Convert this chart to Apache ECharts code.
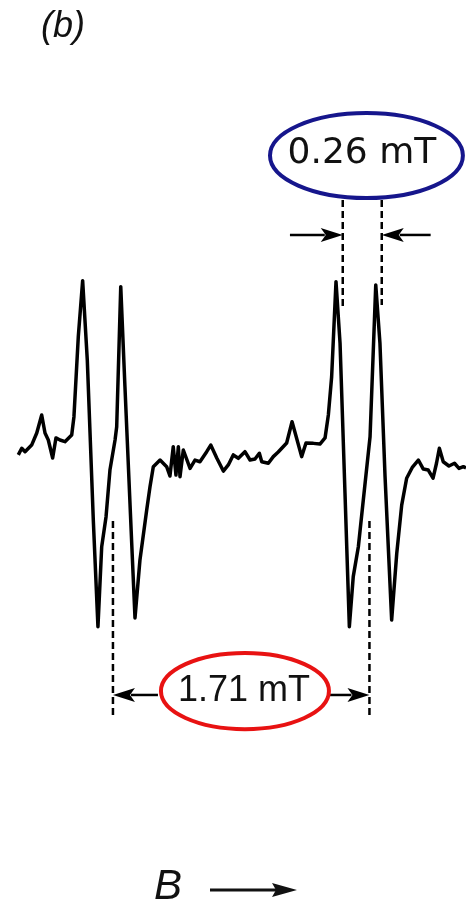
<!DOCTYPE html>
<html>
<head>
<meta charset="utf-8">
<script src="https://cdn.jsdelivr.net/npm/echarts@6/dist/echarts.min.js"></script>
<style>
html,body{margin:0;padding:0;background:#fff;}
#chart{width:466px;height:906px;}
</style>
</head>
<body>
<div id="chart"></div>
<script>
// Magnetic field (mT, relative) and EPR derivative signal (arb. units)
const field = [0.122,0.145,0.167,0.211,0.245,0.278,0.300,0.322,0.351,0.373,0.400,0.433,0.478,0.493,0.522,0.551,0.582,0.622,0.653,0.678,0.707,0.733,0.767,0.778,0.805,0.833,0.878,0.900,0.933,0.978,1.000,1.022,1.067,1.111,1.133,1.155,1.173,1.189,1.200,1.222,1.267,1.300,1.333,1.378,1.405,1.445,1.489,1.522,1.555,1.589,1.633,1.667,1.700,1.729,1.745,1.789,1.822,1.855,1.911,1.947,1.977,2.011,2.040,2.089,2.133,2.167,2.189,2.211,2.240,2.267,2.300,2.329,2.355,2.389,2.422,2.467,2.505,2.533,2.567,2.611,2.645,2.678,2.711,2.750,2.789,2.822,2.855,2.887,2.910,2.929,2.955,2.993,3.030,3.060,3.089,3.107];
const signal = [-0.029,0.010,-0.010,0.029,0.100,0.206,0.100,0.059,-0.047,0.071,0.059,0.049,0.088,0.196,0.667,0.996,0.529,-0.412,-1.039,-0.569,-0.392,-0.118,0.059,0.137,0.961,0.372,-0.547,-0.988,-0.647,-0.353,-0.216,-0.098,-0.059,-0.098,-0.153,0.019,-0.147,0.019,-0.157,0.000,-0.108,-0.059,-0.069,-0.010,0.029,-0.047,-0.124,-0.088,-0.029,-0.049,-0.010,-0.059,-0.053,-0.019,-0.069,-0.078,-0.039,-0.012,0.041,0.166,0.071,-0.039,0.041,0.039,0.035,0.071,0.206,0.431,0.990,0.628,-0.255,-1.039,-0.745,-0.569,-0.294,0.078,0.971,0.628,-0.157,-1.000,-0.608,-0.324,-0.166,-0.100,-0.059,-0.112,-0.118,-0.166,-0.078,0.010,-0.069,-0.094,-0.078,-0.108,-0.098,-0.106];

// Splitting annotations (field positions in mT)
const wideSplitLabel = '1.71 mT';
const wideSplitField = [0.753, 2.463];
const wideSplitDashY = [-0.418, -1.576];
const wideSplitArrowY = -1.441;
const wideSplitArrowFrom = [1.053, 2.200];

const narrowSplitLabel = '0.26 mT';
const narrowSplitField = [2.285, 2.545];
const narrowSplitDashY = [[1.471, 0.824], [1.471, 0.853]];
const narrowSplitArrowY = 1.265;
const narrowSplitArrowFrom = [1.933, 2.871];

// Ellipse callouts: [cx, cy, rx, ry] in data units
const redEllipse = [1.633, -1.418, 0.560, 0.224];
const blueEllipse = [2.443, 1.732, 0.643, 0.250];
const redTextPos = [1.627, -1.421];
const blueTextPos = [2.413, 1.741];

const data = field.map((f, i) => [f, signal[i]]);

function arrow(api, fromX, toX, y, children) {
  const p1 = api.coord([fromX, y]);
  const p2 = api.coord([toX, y]);
  const dir = p2[0] > p1[0] ? 1 : -1;
  const headLen = 22, headW = 7;
  const base = p2[0] - dir * headLen;
  children.push({type: 'line', shape: {x1: p1[0], y1: p1[1], x2: base + dir * 4, y2: p2[1]},
    style: {stroke: '#000', lineWidth: 2.5}});
  children.push({type: 'polygon', shape: {points: [[p2[0], p2[1]], [base, p2[1] - headW], [base + dir * 5, p2[1]], [base, p2[1] + headW]]},
    style: {fill: '#000'}});
}

function dash(api, x, y1, y2, children) {
  const a = api.coord([x, y1]);
  const b = api.coord([x, y2]);
  children.push({type: 'line', shape: {x1: a[0], y1: a[1], x2: b[0], y2: b[1]},
    style: {stroke: '#000', lineWidth: 2.5, lineDash: [7, 4]}});
}

function ellipse(api, e, color, children) {
  const c = api.coord([e[0], e[1]]);
  const s = api.size([e[2], e[3]]);
  children.push({type: 'ellipse', shape: {cx: c[0], cy: c[1], rx: s[0], ry: s[1]},
    style: {fill: 'rgba(0,0,0,0)', stroke: color, lineWidth: 4}});
}

function renderAnnotations(params, api) {
  const children = [];
  wideSplitField.forEach(x => dash(api, x, wideSplitDashY[0], wideSplitDashY[1], children));
  narrowSplitField.forEach((x, i) => dash(api, x, narrowSplitDashY[i][0], narrowSplitDashY[i][1], children));
  arrow(api, wideSplitArrowFrom[0], wideSplitField[0], wideSplitArrowY, children);
  arrow(api, wideSplitArrowFrom[1], wideSplitField[1], wideSplitArrowY, children);
  arrow(api, narrowSplitArrowFrom[0], narrowSplitField[0], narrowSplitArrowY, children);
  arrow(api, narrowSplitArrowFrom[1], narrowSplitField[1], narrowSplitArrowY, children);
  ellipse(api, redEllipse, '#e81212', children);
  ellipse(api, blueEllipse, '#16168c', children);
  const rt = api.coord(redTextPos);
  children.push({type: 'text', style: {text: wideSplitLabel, x: rt[0], y: rt[1], align: 'center', verticalAlign: 'middle',
    font: '36px "Liberation Sans"', fill: '#111'}});
  const bt = api.coord(blueTextPos);
  children.push({type: 'text', style: {text: narrowSplitLabel, x: bt[0], y: bt[1], align: 'center', verticalAlign: 'middle',
    font: '36px "DejaVu Sans"', fill: '#111'}});
  return {type: 'group', children: children};
}

const chart = echarts.init(document.getElementById('chart'), null, {renderer: 'canvas'});
chart.setOption({
  animation: false,
  backgroundColor: '#fff',
  grid: {left: 0, right: 0, top: 0, bottom: 0},
  xAxis: {type: 'value', min: 0, max: 3.10667, show: false},
  yAxis: {type: 'value', min: -2.68235, max: 2.64706, show: false},
  graphic: [
    {type: 'text', left: 41, top: 9, style: {text: '(b)', font: 'italic 36px "Liberation Sans"', fill: '#111'}},
    {type: 'text', left: 154, top: 866, style: {text: 'B', font: 'italic 42px "Liberation Sans"', fill: '#111'}},
    {type: 'line', shape: {x1: 210, y1: 890, x2: 278, y2: 890}, style: {stroke: '#111', lineWidth: 3}},
    {type: 'polygon', shape: {points: [[297, 890], [272, 883], [276, 890], [272, 897]]}, style: {fill: '#111'}}
  ],
  series: [
    {
      type: 'line',
      data: data,
      showSymbol: false,
      symbol: 'none',
      smooth: false,
      lineStyle: {color: '#000', width: 3.5, join: 'round'},
      clip: false,
      z: 2
    },
    {
      type: 'custom',
      data: [[0, 0]],
      renderItem: renderAnnotations,
      clip: false,
      silent: true,
      z: 3
    }
  ]
});
</script>
</body>
</html>
